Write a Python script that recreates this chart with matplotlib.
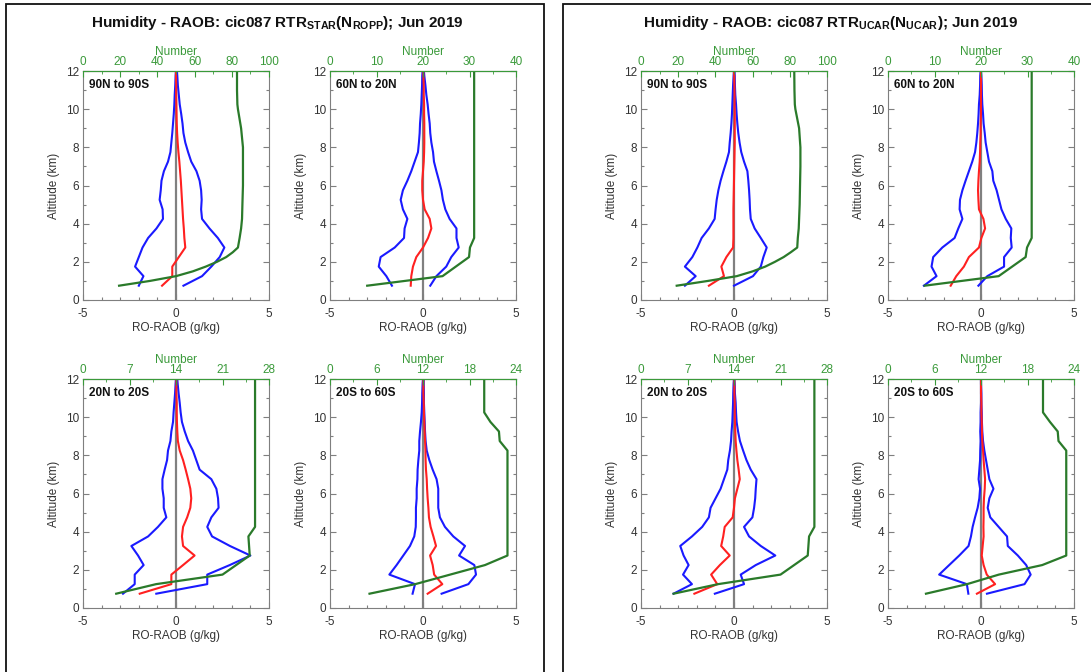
import matplotlib
matplotlib.use("Agg")
import matplotlib.pyplot as plt
from matplotlib.patches import Rectangle
from matplotlib.ticker import MultipleLocator

plt.rcParams['font.family'] = ['Liberation Sans', 'DejaVu Sans']
plt.rcParams['mathtext.default'] = 'regular'
plt.rcParams['axes.unicode_minus'] = False

# altitude levels (km) for the difference profiles
alt = [0.75, 1.25, 1.75, 2.25, 2.75, 3.25, 3.75, 4.25, 4.75, 5.25, 5.75, 6.25,
       6.75, 7.25, 7.75, 8.25, 8.75, 9.25, 9.75, 10.25, 10.75, 11.25, 11.75, 12.0]

titles = [r'Humidity - RAOB: cic087 RTR$_{STAR}$(N$_{ROPP}$); Jun 2019',
          r'Humidity - RAOB: cic087 RTR$_{UCAR}$(N$_{UCAR}$); Jun 2019']
regions = ['90N to 90S', '60N to 20N', '20N to 20S', '20S to 60S']
num_max = [100, 40, 28, 24]
num_step = [20, 10, 7, 6]

# ---- STAR / ROPP ----
star_glob_red = [-0.75, -0.2, -0.2, 0.15, 0.5, 0.45, 0.42, 0.38, 0.35, 0.32, 0.29, 0.26,
                 0.22, 0.18, 0.13, 0.09, 0.06, 0.04, 0.03, 0.02, 0.01, 0.01, 0.0, 0.0]
star_glob_lo = [-2.0, -1.75, -2.2, -2.0, -1.8, -1.5, -1.05, -0.7, -0.72, -0.88, -0.82, -0.78,
                -0.65, -0.43, -0.3, -0.25, -0.2, -0.16, -0.12, -0.09, -0.07, -0.04, -0.02, 0.0]
star_glob_hi = [0.4, 1.4, 1.9, 2.35, 2.6, 2.25, 1.8, 1.4, 1.35, 1.38, 1.35, 1.27,
                1.1, 0.82, 0.65, 0.5, 0.4, 0.35, 0.28, 0.2, 0.15, 0.1, 0.07, 0.05]
star_glob_nz = [0.75, 1.0, 1.25, 1.5, 1.75, 2.0, 2.25, 2.5, 2.75, 3.25, 3.75, 4.25,
                5.0, 6.0, 7.0, 8.0, 9.0, 10.0, 10.25, 11.0, 12.0]
star_glob_num = [19.4, 36, 50, 59, 66, 72, 77, 80.5, 83.3, 84.2, 85, 85.5,
                 85.7, 86, 86, 86, 85, 83.3, 83, 82.8, 82.8]

star_nh_red = [-0.66, -0.63, -0.54, -0.36, 0.0, 0.27, 0.45, 0.36, 0.09, 0.0, -0.04, -0.04,
               0.0, 0.04, 0.06, 0.07, 0.07, 0.07, 0.06, 0.06, 0.04, 0.04, 0.02, 0.02]
star_nh_lo = [-1.67, -1.97, -2.38, -2.28, -1.52, -1.02, -0.99, -0.84, -1.08, -1.2, -1.08, -0.84,
              -0.63, -0.45, -0.27, -0.22, -0.18, -0.16, -0.12, -0.09, -0.07, -0.05, -0.04, -0.02]
star_nh_hi = [0.39, 0.72, 1.25, 1.52, 1.92, 1.8, 1.8, 1.43, 1.2, 1.07, 0.99, 0.86,
              0.72, 0.59, 0.54, 0.45, 0.39, 0.36, 0.3, 0.25, 0.18, 0.13, 0.07, 0.05]
star_nh_nz = [0.75, 1.25, 2.25, 2.75, 3.25, 12.0]
star_nh_num = [8.0, 24.2, 29.9, 30.1, 31.0, 31.0]

star_tr_red = [-1.95, -0.25, -0.25, 0.38, 1.0, 0.38, 0.32, 0.38, 0.6, 0.77, 0.82, 0.77,
               0.65, 0.52, 0.38, 0.2, 0.1, 0.07, 0.05, 0.04, 0.04, 0.02, 0.02, 0.02]
star_tr_lo = [-2.85, -2.22, -2.22, -1.74, -2.04, -2.4, -1.5, -0.97, -0.52, -0.66, -0.66, -0.73,
              -0.73, -0.61, -0.48, -0.43, -0.3, -0.25, -0.16, -0.13, -0.09, -0.05, -0.02, 0.0]
star_tr_hi = [-1.06, 1.68, 1.68, 2.89, 4.0, 2.9, 1.94, 1.68, 1.9, 2.29, 2.26, 2.17,
              1.9, 1.27, 1.09, 0.91, 0.65, 0.47, 0.32, 0.25, 0.2, 0.14, 0.09, 0.07]
star_tr_nz = [0.75, 1.25, 1.75, 2.75, 3.75, 4.25, 12.0]
star_tr_num = [5.0, 11.0, 21.0, 25.1, 24.9, 25.9, 25.9]

star_sh_red = [0.25, 1.04, 0.6, 0.52, 0.38, 0.7, 0.56, 0.41, 0.32, 0.29, 0.25, 0.22,
               0.2, 0.16, 0.14, 0.13, 0.11, 0.09, 0.07, 0.05, 0.04, 0.02, 0.02, 0.02]
star_sh_lo = [-0.56, -0.43, -1.81, -1.42, -1.06, -0.7, -0.47, -0.39, -0.38, -0.38, -0.34, -0.34,
              -0.3, -0.29, -0.25, -0.2, -0.2, -0.16, -0.11, -0.07, -0.05, -0.04, -0.02, 0.0]
star_sh_hi = [1.0, 2.44, 2.85, 2.76, 1.94, 2.26, 1.63, 1.18, 0.91, 0.82, 0.82, 0.82,
              0.73, 0.52, 0.34, 0.2, 0.14, 0.11, 0.09, 0.07, 0.05, 0.05, 0.04, 0.04]
star_sh_nz = [0.75, 1.25, 1.75, 2.25, 2.75, 8.25, 8.75, 9.25, 9.75, 10.25, 12.0]
star_sh_num = [5.1, 11.0, 15.5, 20.0, 22.9, 22.9, 21.9, 21.8, 20.7, 19.9, 19.9]

# ---- UCAR / UCAR ----
ucar_glob_red = [-1.35, -0.54, -0.68, -0.41, -0.05, -0.03, -0.03, -0.03, -0.03, -0.02, -0.01, 0.0,
                 0.01, 0.02, 0.03, 0.04, 0.04, 0.04, 0.04, 0.03, 0.03, 0.02, 0.01, 0.0]
ucar_glob_lo = [-2.64, -2.06, -2.64, -2.24, -1.97, -1.74, -1.35, -1.04, -0.99, -0.93, -0.84, -0.72,
                -0.57, -0.41, -0.27, -0.23, -0.18, -0.14, -0.11, -0.09, -0.07, -0.05, -0.02, 0.0]
ucar_glob_hi = [0.0, 1.02, 1.44, 1.58, 1.76, 1.44, 1.11, 0.9, 0.86, 0.84, 0.81, 0.77,
                0.72, 0.54, 0.39, 0.3, 0.23, 0.18, 0.14, 0.11, 0.07, 0.05, 0.04, 0.03]
ucar_glob_nz = [0.75, 1.0, 1.25, 1.5, 1.75, 2.0, 2.25, 2.5, 2.75, 3.25, 3.75, 4.25,
                5.0, 6.0, 7.0, 8.0, 9.0, 10.0, 10.25, 11.0, 12.0]
ucar_glob_num = [19.2, 36, 51.5, 60, 66.8, 72, 76.7, 80.5, 84, 84.3, 84.8, 85,
                 85.3, 85.5, 85.7, 85.7, 85, 83, 82.7, 82.5, 82.4]

ucar_nh_red = [-1.63, -1.33, -0.92, -0.65, -0.11, 0.02, 0.22, 0.13, -0.11, -0.14, -0.16, -0.14,
               -0.11, -0.07, -0.05, -0.04, -0.02, -0.02, 0.0, 0.0, 0.0, 0.0, 0.0, 0.0]
ucar_nh_lo = [-3.07, -2.39, -2.66, -2.57, -2.08, -1.42, -1.22, -1.0, -1.15, -1.13, -1.0, -0.83,
              -0.65, -0.47, -0.32, -0.25, -0.2, -0.16, -0.13, -0.11, -0.07, -0.05, -0.04, -0.02]
ucar_nh_hi = [-0.14, 0.34, 1.24, 1.24, 1.65, 1.6, 1.63, 1.33, 1.1, 0.97, 0.84, 0.66,
              0.61, 0.43, 0.34, 0.25, 0.2, 0.14, 0.11, 0.07, 0.05, 0.04, 0.02, 0.0]
ucar_nh_nz = [0.75, 1.25, 2.25, 2.75, 3.25, 12.0]
ucar_nh_num = [7.9, 23.8, 29.6, 29.9, 30.9, 30.9]

ucar_tr_red = [-2.13, -0.9, -1.23, -0.76, -0.23, -0.69, -0.58, -0.5, -0.07, 0.0, 0.05, 0.18,
               0.31, 0.25, 0.18, 0.13, 0.09, 0.07, 0.05, 0.04, 0.04, 0.02, 0.02, 0.02]
ucar_tr_lo = [-3.25, -2.26, -2.74, -2.44, -2.71, -2.89, -2.26, -1.71, -1.35, -1.26, -0.99, -0.72,
              -0.54, -0.36, -0.31, -0.22, -0.16, -0.13, -0.09, -0.07, -0.05, -0.04, -0.02, 0.0]
ucar_tr_hi = [-1.03, 0.54, 0.36, 1.17, 2.22, 1.44, 0.81, 0.54, 0.99, 1.08, 1.14, 1.17,
              1.21, 0.9, 0.67, 0.49, 0.32, 0.22, 0.14, 0.11, 0.09, 0.05, 0.04, 0.02]
ucar_tr_nz = [0.75, 1.25, 1.75, 2.75, 3.75, 4.25, 12.0]
ucar_tr_num = [4.9, 11.6, 21.0, 25.1, 25.3, 26.1, 26.1]

ucar_sh_red = [-0.22, 0.76, 0.31, 0.14, 0.04, 0.09, 0.14, 0.13, 0.14, 0.14, 0.16, 0.2,
               0.22, 0.18, 0.14, 0.11, 0.07, 0.05, 0.04, 0.02, 0.02, 0.0, 0.0, 0.0]
ucar_sh_lo = [-0.68, -0.76, -2.25, -1.71, -1.17, -0.67, -0.54, -0.45, -0.32, -0.18, -0.09, -0.05,
              -0.13, -0.09, -0.05, -0.04, -0.02, -0.04, -0.02, -0.02, 0.0, 0.0, 0.0, 0.0]
ucar_sh_hi = [0.32, 2.34, 2.67, 2.43, 1.98, 1.44, 1.4, 0.95, 0.5, 0.36, 0.45, 0.67,
              0.45, 0.36, 0.27, 0.18, 0.11, 0.07, 0.05, 0.04, 0.02, 0.02, 0.0, 0.0]
ucar_sh_nz = [0.75, 1.25, 1.75, 2.25, 2.75, 8.25, 8.75, 9.25, 9.75, 10.25, 12.0]
ucar_sh_num = [4.9, 10.2, 14.3, 19.9, 23.0, 23.0, 22.0, 21.9, 20.9, 20.0, 20.0]

star = [(star_glob_red, star_glob_lo, star_glob_hi, star_glob_nz, star_glob_num),
        (star_nh_red, star_nh_lo, star_nh_hi, star_nh_nz, star_nh_num),
        (star_tr_red, star_tr_lo, star_tr_hi, star_tr_nz, star_tr_num),
        (star_sh_red, star_sh_lo, star_sh_hi, star_sh_nz, star_sh_num)]
ucar = [(ucar_glob_red, ucar_glob_lo, ucar_glob_hi, ucar_glob_nz, ucar_glob_num),
        (ucar_nh_red, ucar_nh_lo, ucar_nh_hi, ucar_nh_nz, ucar_nh_num),
        (ucar_tr_red, ucar_tr_lo, ucar_tr_hi, ucar_tr_nz, ucar_tr_num),
        (ucar_sh_red, ucar_sh_lo, ucar_sh_hi, ucar_sh_nz, ucar_sh_num)]

W, H = 1091, 672
GREEN = '#2a7a2a'
TGREEN = '#3a9a3a'
SPINE = '#7f7f7f'


def draw_panel(fig, px, py, pw, ph, data, region, nmax, nstep):
    ax = fig.add_axes([px / W, 1 - (py + ph) / H, pw / W, ph / H])
    ax.axvline(0, color='#808080', lw=1.6, zorder=1)
    ax.plot(data[1], alt, color='#1a1aff', lw=1.5, zorder=3)
    ax.plot(data[2], alt, color='#1a1aff', lw=1.5, zorder=3)
    ax.plot(data[0], alt, color='#ff2020', lw=1.5, zorder=4)
    ax.set_xlim(-5, 5)
    ax.set_ylim(0, 12)
    ax.xaxis.set_major_locator(MultipleLocator(5))
    ax.xaxis.set_minor_locator(MultipleLocator(1))
    ax.yaxis.set_major_locator(MultipleLocator(2))
    ax.yaxis.set_minor_locator(MultipleLocator(1))
    ax.tick_params(which='both', direction='in', right=True, top=False,
                   labelsize=8.5, colors='#333333')
    ax.tick_params(axis='x', pad=6)
    ax.tick_params(axis='y', pad=3)
    ax.tick_params(which='major', length=4, width=0.8, color=SPINE)
    ax.tick_params(which='minor', length=2, width=0.8, color=SPINE)
    for s in ['left', 'right', 'bottom']:
        ax.spines[s].set_color(SPINE)
    ax.set_xlabel('RO-RAOB (g/kg)', fontsize=8.5, color='#333333', labelpad=1)
    ax.set_ylabel('Altitude (km)', fontsize=8.5, color='#333333', labelpad=4)
    ax.text(0.03, 0.965, region, transform=ax.transAxes, fontsize=8.5,
            fontweight='bold', va='top', ha='left', color='#111111')

    tx = ax.twiny()
    tx.plot(data[4], data[3], color=GREEN, lw=1.6, zorder=2)
    tx.set_xlim(0, nmax)
    tx.set_ylim(0, 12)
    tx.xaxis.set_major_locator(MultipleLocator(nstep))
    tx.xaxis.set_minor_locator(MultipleLocator(nstep / 2))
    tx.tick_params(which='both', direction='in', labelsize=8.5, colors=TGREEN, pad=2)
    tx.tick_params(which='major', length=4)
    tx.tick_params(which='minor', length=2)
    tx.spines['top'].set_color(TGREEN)
    for s in ['left', 'right', 'bottom']:
        tx.spines[s].set_visible(False)
    tx.set_xlabel('Number', fontsize=8.5, color=TGREEN, labelpad=1)
    return ax


fig = plt.figure(figsize=(W / 100, H / 100), dpi=100)
fig.patch.set_facecolor('white')

# panel frames
fig.patches.append(Rectangle((6 / W, -0.05), (544 - 6) / W, 1.05 - 4 / H,
                             transform=fig.transFigure, fill=False,
                             edgecolor='#111111', lw=1.3))
fig.patches.append(Rectangle((563 / W, -0.05), 0.5, 1.05 - 4 / H,
                             transform=fig.transFigure, fill=False,
                             edgecolor='#111111', lw=1.3))

lefts = [[83, 330], [641, 888]]
tops = [71, 379]
centers = [277, 831]
for k, sets in enumerate([star, ucar]):
    fig.text(centers[k] / W, 1 - 23 / H, titles[k], ha='center', va='center',
             fontsize=11, fontweight='bold', color='#111111')
    for i in range(4):
        r, c = divmod(i, 2)
        draw_panel(fig, lefts[k][c], tops[r], 186, 229, sets[i], regions[i],
                   num_max[i], num_step[i])

fig.savefig('out.png', dpi=100)
